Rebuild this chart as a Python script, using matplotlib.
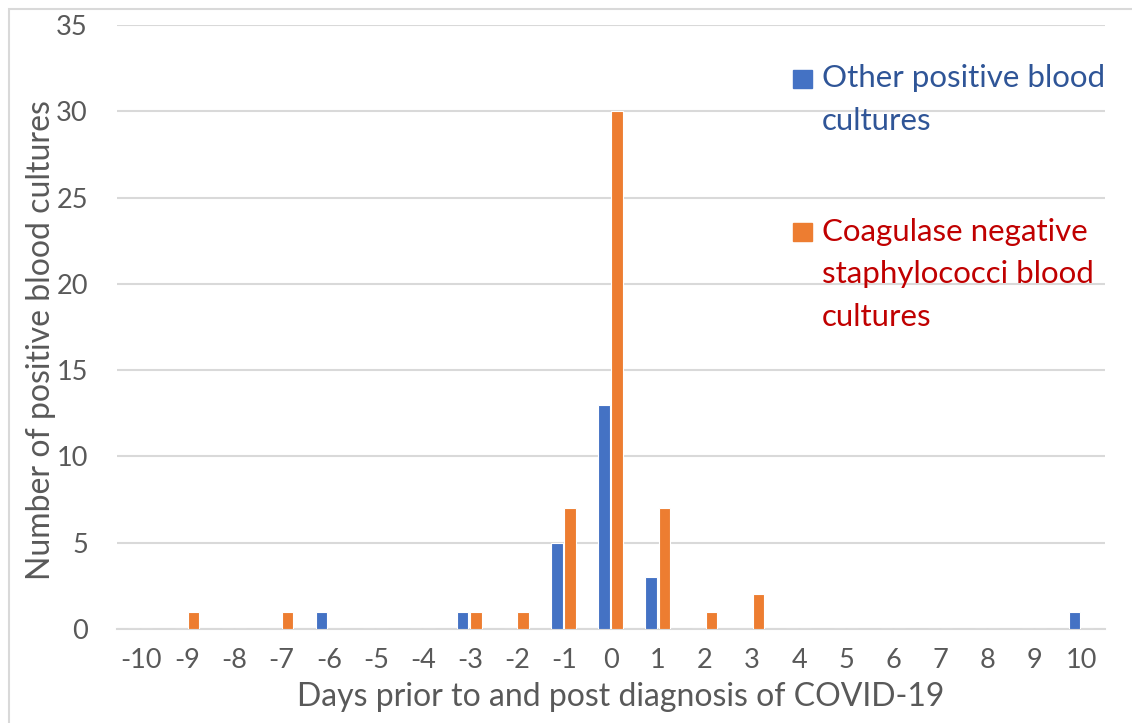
import numpy as np
import matplotlib
matplotlib.use("Agg")
import matplotlib.pyplot as plt
from matplotlib.patches import Rectangle

# data
days = list(range(-10, 11))
other_positive = [0, 0, 0, 0, 1, 0, 0, 1, 0, 5, 13, 3, 0, 0, 0, 0, 0, 0, 0, 0, 1]
coag_neg_staph = [0, 1, 0, 1, 0, 0, 0, 1, 1, 7, 30, 7, 1, 2, 0, 0, 0, 0, 0, 0, 0]
series_names = ["Other positive blood\ncultures",
                "Coagulase negative\nstaphylococci blood\ncultures"]

BLUE = "#4472C4"
ORANGE = "#ED7D31"
GRID = "#D9D9D9"
TXT = "#595959"

plt.rcParams["font.family"] = ["Lato", "DejaVu Sans"]

fig = plt.figure(figsize=(11.32, 7.23), dpi=100)
ax = fig.add_axes([117 / 1132, 1 - 629 / 723, (1105 - 117) / 1132, (629 - 25) / 723])

# light outer frame of the chart area
fig.patches.append(Rectangle((9 / 1132, -0.05), 1.2, 1 - 9 / 723 + 0.05,
                             transform=fig.transFigure, fill=False,
                             edgecolor=GRID, linewidth=1.5, zorder=0))

x = np.array(days)
w = 0.24
ax.bar(x - 0.15, other_positive, width=w, color=BLUE, edgecolor="white", linewidth=0.8, zorder=3)
ax.bar(x + 0.13, coag_neg_staph, width=w, color=ORANGE, edgecolor="white", linewidth=0.8, zorder=3)

ax.set_xlim(-10.5, 10.5)
ax.set_ylim(0, 35)
ax.set_xticks(days)
ax.set_xticklabels([str(d) for d in days])
ax.set_yticks(range(0, 36, 5))
ax.tick_params(axis="both", length=0, labelsize=19.5, colors=TXT)
ax.tick_params(axis="x", pad=14)
ax.tick_params(axis="y", pad=21)

ax.grid(axis="y", color=GRID, linewidth=1.5, zorder=0)
for s in ["top", "right", "left"]:
    ax.spines[s].set_visible(False)
ax.spines["bottom"].set_color(GRID)
ax.spines["bottom"].set_linewidth(1.5)
ax.set_axisbelow(True)

ax.set_xlabel("Days prior to and post diagnosis of COVID-19", fontsize=23, color=TXT)
ax.set_ylabel("Number of positive blood cultures", fontsize=23, color=TXT)
ax.xaxis.set_label_coords(0.510, -0.087)
ax.yaxis.set_label_coords(-0.062, 0.478)

# legend drawn by hand so the text can be coloured like the original
fig.patches.append(Rectangle((793 / 1132, 1 - 88 / 723), 19 / 1132, 18 / 723,
                             transform=fig.transFigure, color=BLUE))
fig.text(822 / 1132, 1 - 64 / 723, series_names[0], fontsize=22.5, color="#2F5597",
         va="top", ha="left", linespacing=1.65)
fig.patches.append(Rectangle((793 / 1132, 1 - 241 / 723), 19 / 1132, 18 / 723,
                             transform=fig.transFigure, color=ORANGE))
fig.text(822 / 1132, 1 - 218 / 723, series_names[1], fontsize=22.5, color="#C00000",
         va="top", ha="left", linespacing=1.62)

fig.savefig("out.png", dpi=100)
